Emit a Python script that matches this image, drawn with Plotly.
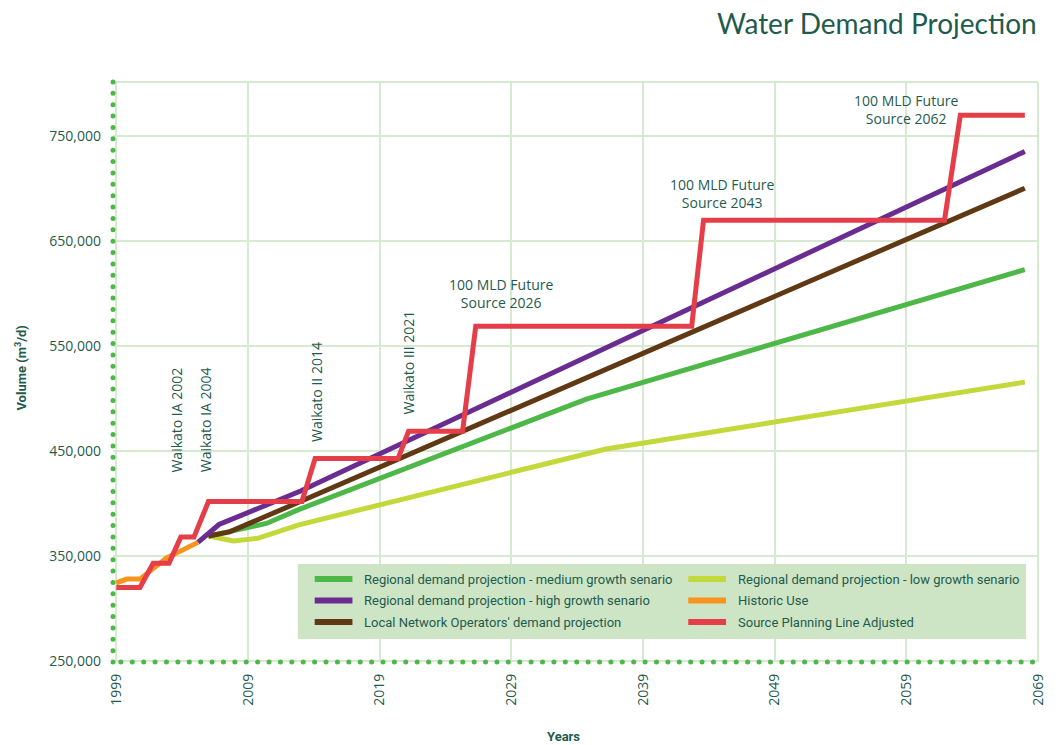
import numpy as np
import plotly.graph_objects as go

# ---- data (m3/d) ----
hist_years = [1999, 1999.8, 2000.8, 2002.8, 2005.2]
hist_vol = [324500, 328000, 328000, 348000, 363000]

high_years = [2005.2, 2006.8, 2013, 2068]
high_vol = [363000, 380000, 412000, 735500]

local_years = [2006, 2007.6, 2012.8, 2068]
local_vol = [369000, 373000, 401000, 700500]

med_years = [2006, 2008.3, 2010.4, 2012.8, 2034.7, 2068]
med_vol = [369000, 375500, 381000, 394000, 499500, 623000]

low_years = [2006, 2007.9, 2009.8, 2012.8, 2036.2, 2068]
low_vol = [369000, 364300, 367000, 379500, 452000, 515700]

src_years = [1999, 2000.8, 2001.8, 2003.0, 2003.9, 2004.9, 2006.0, 2013.1, 2014.1,
             2020.4, 2021.2, 2025.3, 2026.3, 2042.7, 2043.6, 2061.9, 2063.1, 2068]
src_vol = [320000, 320000, 343000, 343000, 368000, 368000, 402000, 402000, 443000,
           443000, 469000, 469000, 569000, 569000, 670000, 670000, 770000, 770000]

x_ticks = [1999, 2009, 2019, 2029, 2039, 2049, 2059, 2069]
y_ticks = [250000, 350000, 450000, 550000, 650000, 750000]

# scheme labels: (text, year, volume, angle)
scheme_labels = [
    ("Waikato IA 2002", 2003.57, 479500, -90),
    ("Waikato IA 2004", 2005.75, 479500, -90),
    ("Waikato II 2014", 2014.2, 506700, -90),
    ("Waikato III 2021", 2021.2, 534000, -90),
    ("100 MLD Future<br>Source 2026", 2028.2, 600000, 0),
    ("100 MLD Future<br>Source 2043", 2045.0, 695700, 0),
    ("100 MLD Future<br>Source 2062", 2059.0, 775700, 0),
]

X_RANGE = [1998.75, 2069]
Y_RANGE = [249000, 801700]

W, H = 1059, 745
ML, MR, MT, MB = 113, 15, 82, 83
PW, PH = W - ML - MR, H - MT - MB

TEXT = "#1f5b4d"
GRID = "#d7e9d0"
DOT = "#4cb848"
LEG_BG = "#cde5c5"
COND = "Roboto, Liberation Sans, sans-serif"
BODY = "Open Sans, Noto Sans, sans-serif"


def px_x(p):
    return (p - ML) / PW


def px_y(p):
    return (H - MB - p) / PH


fig = go.Figure()

# (name, years, volumes, colour, legend slot)
series = [
    ("Regional demand projection - low growth senario", low_years, low_vol, "#c3d83a", 1),
    ("Regional demand projection - medium growth senario", med_years, med_vol, "#4db848", 0),
    ("Local Network Operators' demand projection", local_years, local_vol, "#603813", 4),
    ("Regional demand projection - high growth senario", high_years, high_vol, "#6a2c91", 2),
    ("Historic Use", hist_years, hist_vol, "#f7941d", 3),
    ("Source Planning Line Adjusted", src_years, src_vol, "#e63e48", 5),
]
for name, xs, ys, col, slot in series:
    fig.add_trace(go.Scatter(
        x=xs, y=ys, mode="lines", name=name, showlegend=False,
        line=dict(color=col, width=5), hoverinfo="skip"))

# dotted axis lines
left_y = np.linspace(Y_RANGE[0], Y_RANGE[1], 52)
fig.add_trace(go.Scatter(
    x=[X_RANGE[0]] * len(left_y), y=left_y, mode="markers", showlegend=False,
    marker=dict(color=DOT, size=5), cliponaxis=False, hoverinfo="skip"))
bottom_x = np.linspace(X_RANGE[0] + 0.6, X_RANGE[1] + 0.45, 82)
fig.add_trace(go.Scatter(
    x=bottom_x, y=[Y_RANGE[0]] * len(bottom_x), mode="markers", showlegend=False,
    marker=dict(color=DOT, size=5), cliponaxis=False, hoverinfo="skip"))

for text, xv, yv, ang in scheme_labels:
    fig.add_annotation(x=xv, y=yv, xref="x", yref="y", text=text, showarrow=False,
                       xanchor="center", yanchor="middle",
                       textangle=ang, font=dict(family=BODY, size=14, color=TEXT),
                       align="center")

# legend panel: two columns, three rows
fig.add_shape(type="rect", xref="paper", yref="paper",
              x0=px_x(299), x1=px_x(1032), y0=px_y(639), y1=px_y(564),
              fillcolor=LEG_BG, line=dict(width=0), layer="above")
row_y = [579, 600.5, 622]
col_x = [316, 692]
for name, xs, ys, col, slot in series:
    r, c = divmod(slot, 2)
    yy = px_y(row_y[r])
    fig.add_shape(type="line", xref="paper", yref="paper",
                  x0=px_x(col_x[c]), x1=px_x(col_x[c] + 38), y0=yy, y1=yy,
                  line=dict(color=col, width=6), layer="above")
    fig.add_annotation(x=px_x(col_x[c] + 48), y=yy, xref="paper", yref="paper",
                       xanchor="left", yanchor="middle", text=name, showarrow=False,
                       font=dict(family=COND, size=13, color=TEXT))

# titles
fig.add_annotation(x=px_x(1045), y=px_y(23), xref="paper", yref="paper", xanchor="right",
                   yanchor="middle", text="Water Demand Projection", showarrow=False,
                   font=dict(family="Lato, Open Sans, sans-serif", size=28, color=TEXT))
fig.add_annotation(x=px_x(20), y=px_y(368), xref="paper", yref="paper", textangle=-90,
                   xanchor="center", yanchor="middle",
                   text="<b>Volume (m<sup>3</sup>/d)</b>", showarrow=False,
                   font=dict(family=COND, size=13, color=TEXT))
fig.add_annotation(x=px_x(566), y=px_y(736), xref="paper", yref="paper",
                   xanchor="center", yanchor="middle",
                   text="<b>Years</b>", showarrow=False,
                   font=dict(family=COND, size=13, color=TEXT))

# plot border (top / right)
fig.add_shape(type="line", xref="paper", yref="paper", x0=0, x1=1, y0=1, y1=1,
              line=dict(color=GRID, width=2), layer="below")
fig.add_shape(type="line", xref="paper", yref="paper", x0=1, x1=1, y0=0, y1=1,
              line=dict(color=GRID, width=2), layer="below")

fig.update_layout(
    width=W, height=H,
    margin=dict(l=ML, r=MR, t=MT, b=MB),
    paper_bgcolor="white", plot_bgcolor="white",
    showlegend=False,
    xaxis=dict(range=X_RANGE, tickvals=x_ticks, tickangle=-90, showgrid=True,
               gridcolor=GRID, gridwidth=2, zeroline=False, showline=False,
               ticks="", ticklabelstandoff=8,
               tickfont=dict(family=BODY, size=14, color=TEXT)),
    yaxis=dict(range=Y_RANGE, tickvals=y_ticks, tickformat=",", showgrid=True,
               gridcolor=GRID, gridwidth=2, zeroline=False, showline=False,
               ticks="", ticklabelstandoff=11,
               tickfont=dict(family=BODY, size=14, color=TEXT)),
)

fig.write_html("out.html")
